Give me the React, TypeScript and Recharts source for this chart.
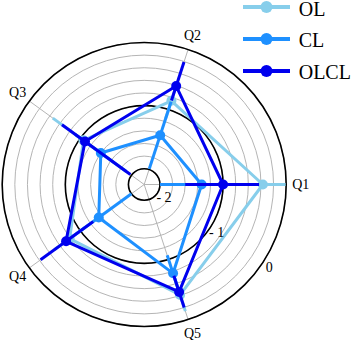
import React from 'react';
import { RadarChart, Radar, PolarGrid, PolarAngleAxis, PolarRadiusAxis, Legend } from 'recharts';

// ---- data ----
const categories = ['Q1', 'Q2', 'Q3', 'Q4', 'Q5'];
const seriesNames = ['OL', 'CL', 'OLCL'];

const olValues = [-0.37, -0.855, -1.06, -0.79, -0.41];
const olErrLow = [0.36, 0.3, 0.6, 0.3, 0.27];
const olErrHigh = [0.36, 0.3, 0.6, 0.3, 0.27];

const clValues = [-1.34, -1.43, -1.4, -1.36, -0.77];
const clErrLow = [0.66, 0.56, 0.5, 0.64, 0.3];
const clErrHigh = [0.66, 0.56, 0.5, 0.64, 0.3];

const olclValues = [-1.0, -0.61, -1.09, -0.72, -0.46];
const olclErrLow = [0.6, 0.24, 0.89, 0.53, 0.27];
const olclErrHigh = [0.57, 0.4, 0.45, 0.5, 0.26];

const fineTicks = [-2, -1.8, -1.6, -1.4, -1.2, -1, -0.8, -0.6, -0.4, -0.2, 0];
const mainTicks = [-2, -1, 0];
const radiusDomain: [number, number] = [-2.25, 0];

// ---- styles ----
const COLORS: Record<string, string> = { OL: '#87ceeb', CL: '#1e90ff', OLCL: '#0000ee' };
const FONT = '"Liberation Serif", "Times New Roman", serif';
const W = 353;
const H = 340;
const CX = 144.2;
const CY = 184.5;
const OUTER = 142;
const LABEL_R = 156.5;

const values: Record<string, number[]> = { OL: olValues, CL: clValues, OLCL: olclValues };
const errLow: Record<string, number[]> = { OL: olErrLow, CL: clErrLow, OLCL: olclErrLow };
const errHigh: Record<string, number[]> = { OL: olErrHigh, CL: clErrHigh, OLCL: olclErrHigh };

// Recharts lays categories out clockwise; the reference runs counter-clockwise
// (Q1 at 0°, Q2 at 72°, ...), so the table visits the categories as Q1, Q5, Q4, Q3, Q2.
const order = categories.map((_, k) => (k === 0 ? 0 : categories.length - k));
const data = order.map((i) => {
  const row: any = { q: categories[i] };
  seriesNames.forEach((s) => {
    row[s] = values[s][i];
    row[s + '_lo'] = values[s][i] - errLow[s][i];
    row[s + '_hi'] = values[s][i] + errHigh[s][i];
  });
  return row;
});

function makeShape(key: string, color: string) {
  return (props: any) => {
    const pts: any[] = props.points || [];
    const d = pts.map((p, i) => `${i === 0 ? 'M' : 'L'}${p.x},${p.y}`).join(' ') + ' Z';
    const rmin = radiusDomain[0];
    return (
      <g>
        <path d={d} fill="none" stroke={color} strokeWidth={3} strokeLinejoin="round" />
        {pts.map((p, i) => {
          const k = p.radius / (p.value - rmin);
          const r1 = k * (p.payload[key + '_lo'] - rmin);
          const r2 = k * (p.payload[key + '_hi'] - rmin);
          const ux = (p.x - p.cx) / (p.radius || 1);
          const uy = (p.y - p.cy) / (p.radius || 1);
          return (
            <line
              key={'e' + i}
              x1={p.cx + r1 * ux}
              y1={p.cy + r1 * uy}
              x2={p.cx + r2 * ux}
              y2={p.cy + r2 * uy}
              stroke={color}
              strokeWidth={3}
            />
          );
        })}
        {pts.map((p, i) => (
          <circle key={'d' + i} cx={p.x} cy={p.y} r={5} fill={color} />
        ))}
      </g>
    );
  };
}

const AngleTick = (props: any) => {
  const { x, y, payload } = props;
  const cx = props.cx ?? CX;
  const cy = props.cy ?? CY;
  const dx = x - cx;
  const dy = y - cy;
  const len = Math.hypot(dx, dy) || 1;
  return (
    <text
      x={cx + (dx / len) * LABEL_R}
      y={cy + (dy / len) * LABEL_R}
      textAnchor="middle"
      dominantBaseline="central"
      fontFamily={FONT}
      fontSize={14}
      fill="#000"
    >
      {payload.value}
    </text>
  );
};

const RadiusTick = (props: any) => {
  const { x, y, payload } = props;
  const cx = props.cx ?? CX;
  const cy = props.cy ?? CY;
  const dx = x - cx;
  const dy = y - cy;
  const len = Math.hypot(dx, dy) || 1;
  const off = 8;
  const v = Number(payload.value);
  const label = v < 0 ? `- ${Math.abs(v)}` : `${v}`;
  return (
    <text
      x={x + (dx / len) * off}
      y={y + (dy / len) * off}
      textAnchor="middle"
      dominantBaseline="central"
      fontFamily={FONT}
      fontSize={14}
      fill="#000"
    >
      {label}
    </text>
  );
};

const renderLegend = () => {
  return (
    <div style={{ fontFamily: FONT, whiteSpace: 'nowrap' }}>
      {seriesNames.map((name) => (
        <div key={name} style={{ display: 'flex', alignItems: 'center', height: 14, marginBottom: 17.75 }}>
          <svg width={47} height={14} style={{ display: 'block', flex: 'none' }}>
            <line x1={0} y1={7} x2={47} y2={7} stroke={COLORS[name]} strokeWidth={4} />
            <circle cx={23.5} cy={7} r={6} fill={COLORS[name]} />
          </svg>
          <span style={{ marginLeft: 9, fontSize: 20, lineHeight: '14px', color: '#000', position: 'relative', top: 1.5 }}>{name}</span>
        </div>
      ))}
    </div>
  );
};

export default function App() {
  return (
    <div style={{ position: 'absolute', left: 0, top: 0, width: W, height: H }}>
      <RadarChart
        width={W}
        height={H}
        data={data}
        cx={CX}
        cy={CY}
        outerRadius={OUTER}
        innerRadius={0}
        startAngle={0}
        endAngle={-360}
        margin={{ top: 0, right: 0, bottom: 0, left: 0 }}
      >
        <PolarGrid radiusAxisId="fine" gridType="circle" stroke="#b5b5b5" strokeWidth={1} radialLines={true} />
        <PolarGrid gridType="circle" stroke="#000" strokeWidth={1.6} radialLines={false} />
        <PolarAngleAxis dataKey="q" tick={<AngleTick />} tickLine={false} axisLine={false} />
        <PolarRadiusAxis
          radiusAxisId="fine"
          type="number"
          domain={radiusDomain}
          ticks={fineTicks as any}
          tick={false}
          axisLine={false}
          allowDataOverflow
        />
        <PolarRadiusAxis
          type="number"
          domain={radiusDomain}
          ticks={mainTicks as any}
          angle={-33.5}
          tick={<RadiusTick />}
          axisLine={false}
          allowDataOverflow
        />
        {seriesNames.map((s) => (
          <Radar
            key={s}
            name={s}
            dataKey={s}
            stroke={COLORS[s]}
            fill="none"
            fillOpacity={0}
            dot={false}
            shape={makeShape(s, COLORS[s])}
            isAnimationActive={false}
          />
        ))}
        <Legend
          content={renderLegend}
          layout="vertical"
          align="right"
          verticalAlign="top"
          wrapperStyle={{ top: 0, left: 242.7, right: 'auto', width: 110, height: 100 }}
        />
      </RadarChart>
    </div>
  );
}
